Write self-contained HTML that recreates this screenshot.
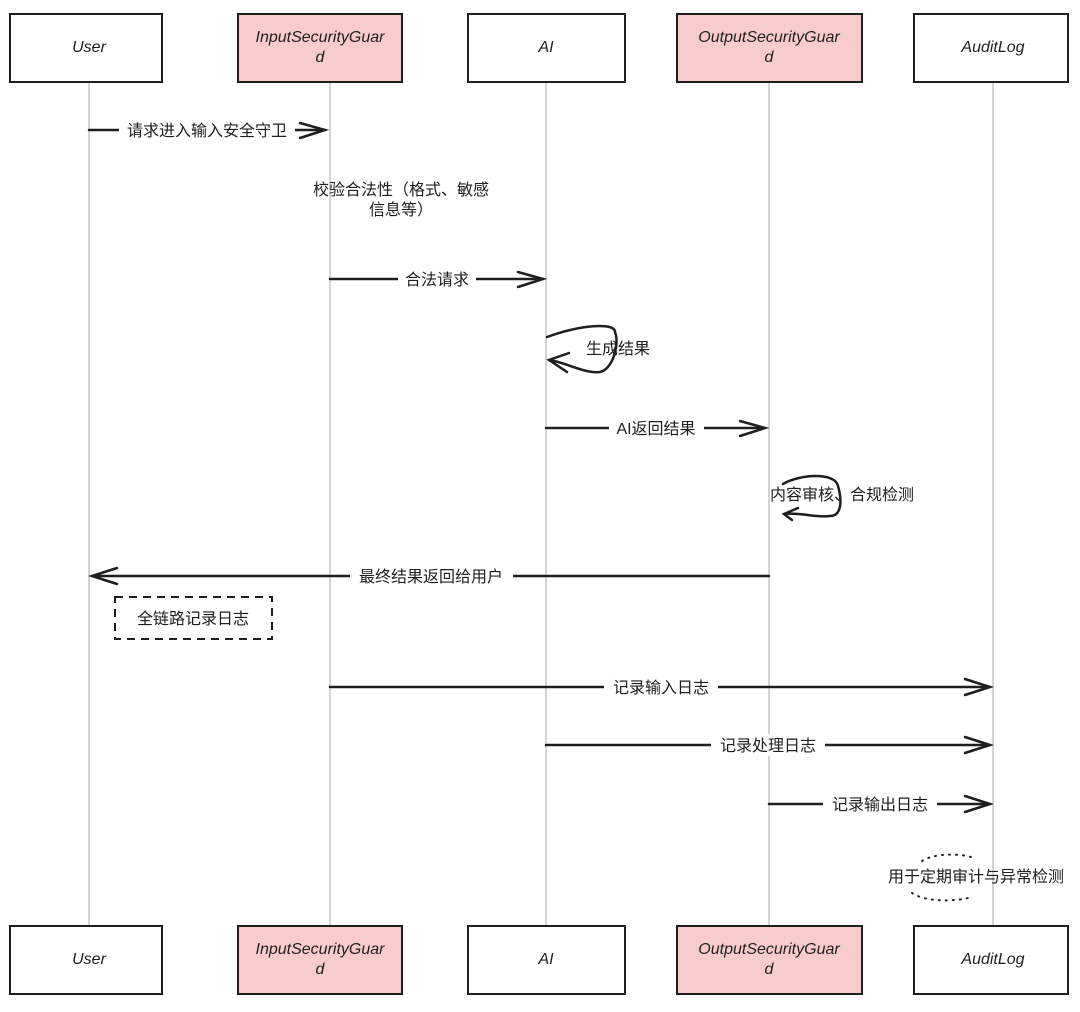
<!DOCTYPE html>
<html><head><meta charset="utf-8"><style>
html,body{margin:0;padding:0;background:#fff;}
text{font-family:"Liberation Sans","Noto Sans CJK SC",sans-serif;font-size:16px;fill:#1e1e1e;}
.b{font-family:"Liberation Sans",sans-serif;font-size:16px;font-style:italic;}
</style></head><body>
<svg width="1080" height="1007" viewBox="0 0 1080 1007" xmlns="http://www.w3.org/2000/svg">
<g stroke="#aaa" stroke-width="1">
<line x1="89" y1="82" x2="89" y2="926"/>
<line x1="330" y1="82" x2="330" y2="926"/>
<line x1="546" y1="82" x2="546" y2="926"/>
<line x1="769" y1="82" x2="769" y2="926"/>
<line x1="993" y1="82" x2="993" y2="926"/>
</g>
<g stroke="#1e1e1e" stroke-width="2">
<rect x="10" y="14" width="152" height="68" fill="#fff"/>
<rect x="238" y="14" width="164" height="68" fill="#f8cccc"/>
<rect x="468" y="14" width="157" height="68" fill="#fff"/>
<rect x="677" y="14" width="185" height="68" fill="#f8cccc"/>
<rect x="914" y="14" width="154" height="68" fill="#fff"/>
<rect x="10" y="926" width="152" height="68" fill="#fff"/>
<rect x="238" y="926" width="164" height="68" fill="#f8cccc"/>
<rect x="468" y="926" width="157" height="68" fill="#fff"/>
<rect x="677" y="926" width="185" height="68" fill="#f8cccc"/>
<rect x="914" y="926" width="154" height="68" fill="#fff"/>
</g>
<g text-anchor="middle" class="b">
<text class="b" x="89" y="52">User</text>
<text class="b" x="320" y="42">InputSecurityGuar</text><text class="b" x="320" y="62">d</text>
<text class="b" x="546" y="52">AI</text>
<text class="b" x="769" y="42">OutputSecurityGuar</text><text class="b" x="769" y="62">d</text>
<text class="b" x="993" y="52">AuditLog</text>
<text class="b" x="89" y="964">User</text>
<text class="b" x="320" y="954">InputSecurityGuar</text><text class="b" x="320" y="974">d</text>
<text class="b" x="546" y="964">AI</text>
<text class="b" x="769" y="954">OutputSecurityGuar</text><text class="b" x="769" y="974">d</text>
<text class="b" x="993" y="964">AuditLog</text>
</g>
<g stroke="#1e1e1e" stroke-width="2.5" fill="none" stroke-linecap="round">
<line x1="89" y1="130" x2="325" y2="130"/><path d="M300 123 L325 130 L300 138"/>
<line x1="330" y1="279" x2="543" y2="279"/><path d="M518 272 L543 279 L518 287"/>
<path d="M547 337 C580 325 615 322 615 332 C620 345 612 370 600 372 C585 374 565 362 549 360"/><path d="M569 353 L549 360 L567 372"/>
<line x1="546" y1="428" x2="765" y2="428"/><path d="M740 421 L765 428 L740 436"/>
<path d="M783 484 C800 474 835 472 838 486 C842 500 842 516 830 516 C815 518 800 512 784 514"/><path d="M798 508 L784 514 L792 520"/>
<line x1="769" y1="576" x2="92" y2="576"/><path d="M117 568 L92 576 L117 584"/>
<line x1="330" y1="687" x2="990" y2="687"/><path d="M965 679 L990 687 L965 695"/>
<line x1="546" y1="745" x2="990" y2="745"/><path d="M965 737 L990 745 L965 753"/>
<line x1="769" y1="804" x2="990" y2="804"/><path d="M965 796 L990 804 L965 812"/>
</g>
<rect x="115" y="597" width="157" height="42" fill="none" stroke="#1e1e1e" stroke-width="2" stroke-dasharray="8 6"/>
<path d="M922 861 C935 853 960 853 974 858" fill="none" stroke="#1e1e1e" stroke-width="2" stroke-dasharray="1 6" stroke-linecap="round"/>
<path d="M912 893 C925 902 955 902 972 897" fill="none" stroke="#1e1e1e" stroke-width="2" stroke-dasharray="1 6" stroke-linecap="round"/>
<g fill="#fff">
<rect x="119" y="119" width="176" height="22"/>
<rect x="398" y="268" width="78" height="22"/>
<rect x="609" y="417" width="95" height="22"/>
<rect x="350" y="565" width="163" height="22"/>
<rect x="604" y="676" width="114" height="22"/>
<rect x="711" y="734" width="114" height="22"/>
<rect x="823" y="793" width="114" height="22"/>
</g>
<g text-anchor="middle">
<text x="207" y="136">请求进入输入安全守卫</text>
<text x="401" y="195">校验合法性（格式、敏感</text>
<text x="401" y="215">信息等）</text>
<text x="437" y="285">合法请求</text>
<text x="618" y="354">生成结果</text>
<text x="656" y="434">AI返回结果</text>
<text x="842" y="500">内容审核、合规检测</text>
<text x="431" y="582">最终结果返回给用户</text>
<text x="193" y="624">全链路记录日志</text>
<text x="661" y="693">记录输入日志</text>
<text x="768" y="751">记录处理日志</text>
<text x="880" y="810">记录输出日志</text>
<text x="976" y="882">用于定期审计与异常检测</text>
</g>
</svg>
</body></html>
